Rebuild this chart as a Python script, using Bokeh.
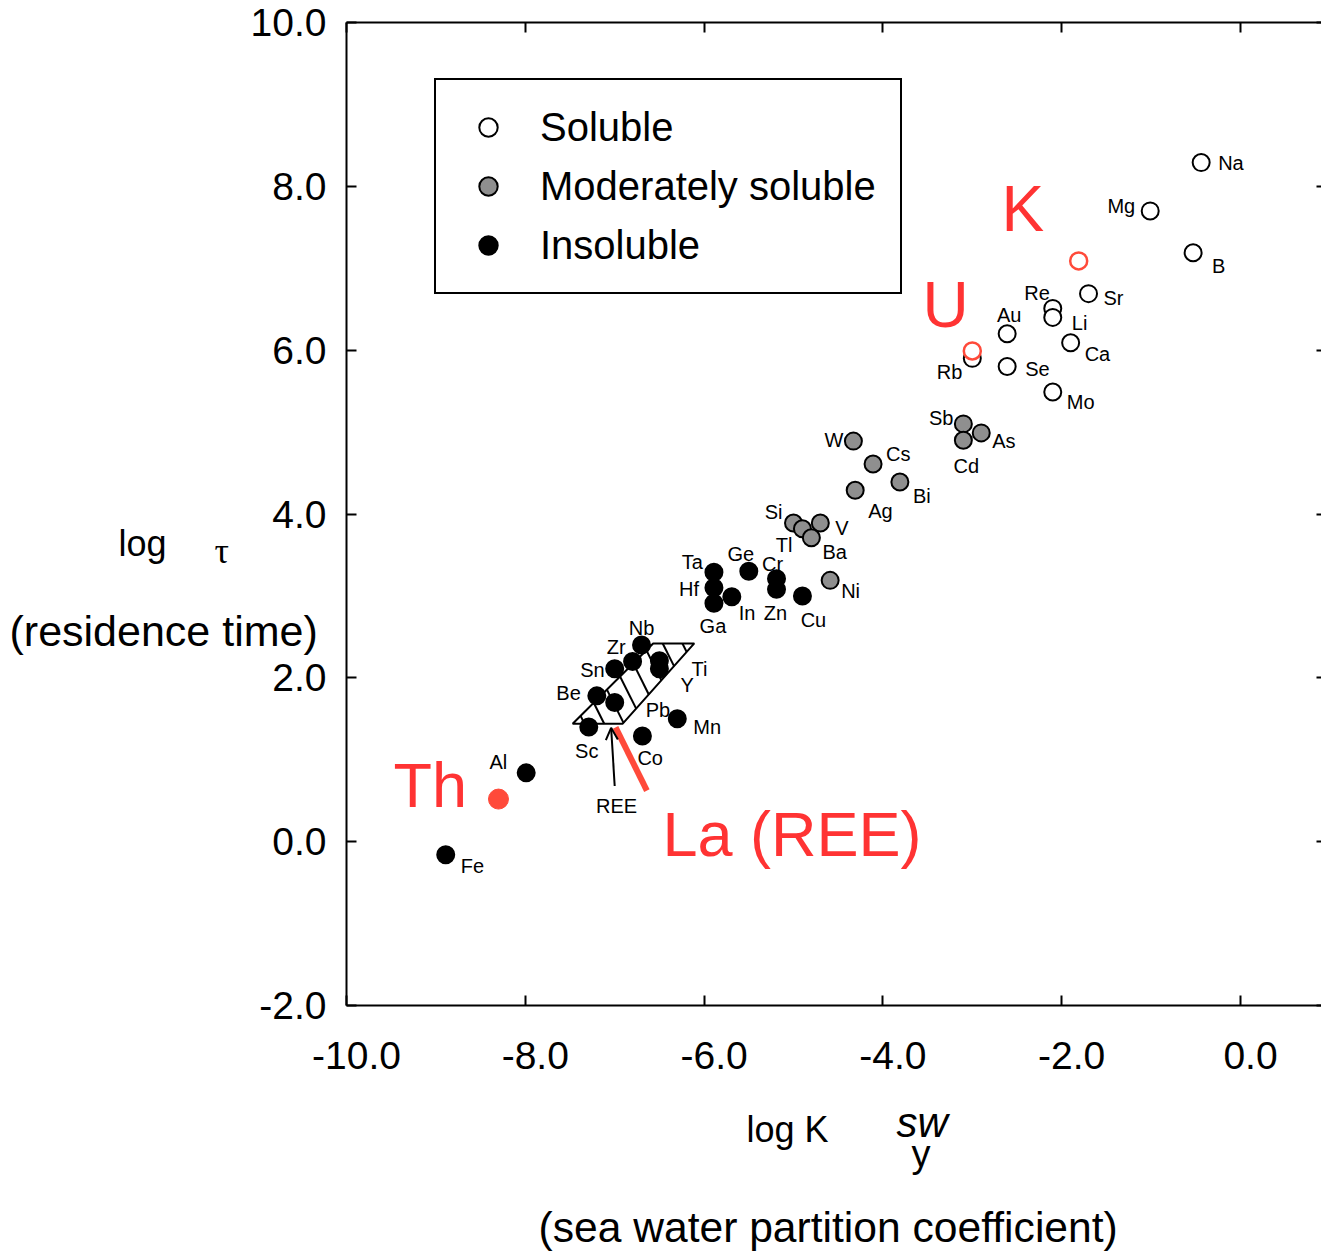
from bokeh.plotting import figure
from bokeh.models import (LinearAxis, FixedTicker, Label, Legend, LegendItem, Arrow,
                          OpenHead, NumeralTickFormatter, ColumnDataSource,
                          CustomJSTickFormatter)
from bokeh.embed import file_html
from bokeh.resources import INLINE
from bokeh.core.properties import value

# ---------------- data ----------------
soluble_names = ["Na", "Mg", "B", "Sr", "Re", "Li", "Au", "Ca", "Rb", "Se", "Mo"]
soluble_x = [-0.44, -1.01, -0.53, -1.70, -2.10, -2.10, -2.61, -1.90, -3.00, -2.61, -2.10]
soluble_y = [8.29, 7.70, 7.19, 6.69, 6.51, 6.40, 6.20, 6.09, 5.90, 5.80, 5.49]

moderate_names = ["W", "Cs", "Ag", "Bi", "Sb", "As", "Cd", "Si", "V", "Tl", "Ba", "Ni"]
moderate_x = [-4.33, -4.11, -4.31, -3.81, -3.10, -2.90, -3.10, -5.00, -4.70, -4.90, -4.80, -4.59]
moderate_y = [4.89, 4.61, 4.29, 4.39, 5.10, 4.99, 4.90, 3.89, 3.89, 3.82, 3.71, 3.19]

insoluble_names = ["Ta", "Hf", "Ga", "In", "Ge", "Cr", "Zn", "Cu", "Nb", "Zr", "Sn", "Ti", "Y",
                   "Be", "Pb", "Mn", "Sc", "Co", "Al", "Fe"]
insoluble_x = [-5.89, -5.89, -5.89, -5.69, -5.50, -5.19, -5.19, -4.90, -6.70, -6.80, -7.00, -6.50,
               -6.50, -7.20, -7.00, -6.30, -7.29, -6.69, -7.99, -8.89]
insoluble_y = [3.29, 3.10, 2.91, 2.99, 3.30, 3.21, 3.08, 3.00, 2.40, 2.20, 2.11, 2.21, 2.11,
               1.78, 1.70, 1.50, 1.40, 1.29, 0.84, -0.16]

highlight_open_names = ["K", "U"]
highlight_open_x = [-1.81, -3.00]
highlight_open_y = [7.09, 5.99]
highlight_filled_names = ["Th"]
highlight_filled_x = [-8.30]
highlight_filled_y = [0.52]

la_line_x = [-6.99, -6.64]
la_line_y = [1.395, 0.623]

ree_box_x = [-7.47, -6.91, -6.11, -6.57]
ree_box_y = [1.44, 1.44, 2.42, 2.42]

ree_arrow_x = [-7.00, -7.04]
ree_arrow_y = [0.68, 1.39]

x_ticks = [-10.0, -8.0, -6.0, -4.0, -2.0, 0.0]
y_ticks = [-2.0, 0.0, 2.0, 4.0, 6.0, 8.0, 10.0]

legend_labels = ["Soluble", "Moderately soluble", "Insoluble"]

# ---------------- layout constants ----------------
FONT = "Liberation Sans"
RED_TEXT = "#ff3333"
RED_MARK = "#ff4a3a"
GRAY = "#8f8f8f"
W, H = 1321, 1252

X0, X1 = -10.0, 0.906          # plot box x extent (box right edge at window edge)
Y0, Y1 = -2.0, 10.0
LEFT, TOP, FW, FH = 346, 22, 975, 983
XLABEL_SHIFT_PX = 10           # x tick labels sit slightly right of their ticks


def X(px):
    return X0 + (px - LEFT) * (X1 - X0) / FW


def Y(py):
    return Y1 - (py - TOP) * (Y1 - Y0) / FH


# label offsets (px) and alignment for each element name
label_layout = {
    "Na": (17, 0, "left"), "Mg": (-15, -5, "right"), "B": (19, 13, "left"),
    "Sr": (15, 4, "left"), "Re": (-3, -15, "right"), "Li": (19, 6, "left"),
    "Au": (2, -19, "center"), "Ca": (14, 11, "left"), "Rb": (-10, 14, "right"),
    "Se": (18, 2, "left"), "Mo": (14, 10, "left"),
    "W": (-10, -1, "right"), "Cs": (13, -10, "left"), "Ag": (13, 21, "left"),
    "Bi": (13, 14, "left"), "Sb": (-10, -6, "right"), "As": (11, 8, "left"),
    "Cd": (3, 26, "center"), "Si": (-11, -11, "right"), "V": (15, 5, "left"),
    "Tl": (-10, 16, "right"), "Ba": (11, 14, "left"), "Ni": (11, 11, "left"),
    "Ta": (-11, -10, "right"), "Hf": (-15, 1, "right"), "Ga": (-1, 23, "center"),
    "In": (7, 16, "left"), "Ge": (-8, -17, "center"), "Cr": (-4, -15, "center"),
    "Zn": (-1, 24, "center"), "Cu": (11, 24, "center"), "Nb": (0, -17, "center"),
    "Zr": (-7, -14, "right"), "Sn": (-10, 1, "right"), "Ti": (32, 8, "left"),
    "Y": (21, 16, "left"), "Be": (-16, -3, "right"), "Pb": (31, 8, "left"),
    "Mn": (16, 8, "left"), "Sc": (-2, 24, "center"), "Co": (-5, 22, "left"),
    "Al": (-19, -11, "right"), "Fe": (15, 11, "left"),
}

# frame covers the whole canvas; axes are pinned to the plot box edges
p = figure(width=W, height=H, x_range=(X(0), X(W)), y_range=(Y(H), Y(0)),
           output_backend="svg", toolbar_location=None,
           min_border_left=0, min_border_right=0, min_border_top=0, min_border_bottom=0)
p.grid.visible = False
p.outline_line_color = None
p.background_fill_color = "white"
p.border_fill_color = "white"


def style_axis(ax, ticks, bounds, loc, labels=True, line=True, tick_in=10):
    ax.ticker = FixedTicker(ticks=ticks)
    ax.formatter = NumeralTickFormatter(format="0.0")
    ax.bounds = bounds
    ax.fixed_location = loc
    ax.major_tick_in = tick_in
    ax.major_tick_out = 0
    ax.minor_tick_line_color = None
    ax.major_tick_line_width = 2
    ax.major_tick_line_color = "black"
    ax.axis_line_width = 2
    ax.axis_line_color = "black" if line else None
    ax.major_label_text_font = FONT
    ax.major_label_text_color = "black"
    if labels:
        ax.major_label_text_font_size = "39px"
    else:
        ax.major_label_text_font_size = "0px"
        ax.major_label_overrides = {t: "" for t in ticks}
        ax.major_label_standoff = 0


# bottom axis: line + ticks
style_axis(p.xaxis[0], x_ticks, (X0, X1), Y0, labels=False)
# bottom tick labels (same tick values, drawn a few pixels to the right)
shift = XLABEL_SHIFT_PX * (X1 - X0) / FW
xlab_axis = LinearAxis(
    ticker=FixedTicker(ticks=[t + shift for t in x_ticks]),
    formatter=CustomJSTickFormatter(
        args=dict(shift=shift),
        code="return (Math.round((tick - shift) * 10) / 10).toFixed(1);"),
    bounds=(X0, X1), fixed_location=Y0,
    axis_line_color=None, major_tick_line_color=None, minor_tick_line_color=None,
    major_tick_in=0, major_tick_out=0, major_label_standoff=36,
    major_label_text_font=FONT, major_label_text_font_size="39px",
    major_label_text_color="black")
p.add_layout(xlab_axis, "below")

style_axis(p.yaxis[0], y_ticks, (Y0, Y1), X0)
p.yaxis[0].major_label_standoff = 20

top_axis = LinearAxis()
style_axis(top_axis, x_ticks, (X0, X1), Y1, labels=False)
p.add_layout(top_axis, "above")
right_axis = LinearAxis()
style_axis(right_axis, y_ticks, (Y0, Y1), X1, labels=False, line=False, tick_in=5)
p.add_layout(right_axis, "right")

# ---------------- REE box with hatching ----------------
p.patch(ree_box_x, ree_box_y, fill_color=None, line_color="black", line_width=2)

PXX = FW / (X1 - X0)
PXY = FH / (Y1 - Y0)
poly = [(x * PXX, -y * PXY) for x, y in zip(ree_box_x, ree_box_y)]
cs = [u - v / 2 for u, v in poly]
cmin, cmax = min(cs), max(cs)
n_hatch = 8
hx, hy = [], []
for k in range(n_hatch):
    c = cmin + (cmax - cmin) * (k + 0.6) / (n_hatch + 0.2)
    pts = []
    for i in range(4):
        (u1, v1), (u2, v2) = poly[i], poly[(i + 1) % 4]
        f1 = u1 - v1 / 2 - c
        f2 = u2 - v2 / 2 - c
        if f1 == f2 or f1 * f2 > 0:
            continue
        t = f1 / (f1 - f2)
        pts.append((u1 + t * (u2 - u1), v1 + t * (v2 - v1)))
    if len(pts) >= 2:
        pts.sort(key=lambda q: q[1])
        (ua, va), (ub, vb) = pts[0], pts[-1]
        hx.append([ua / PXX, ub / PXX])
        hy.append([-va / PXY, -vb / PXY])
p.multi_line(hx, hy, line_color="black", line_width=2)

# La (REE) red line
p.line(la_line_x, la_line_y, line_color=RED_MARK, line_width=6)

# ---------------- points ----------------
r_sol = p.scatter(soluble_x, soluble_y, size=17, marker="circle", fill_color="white",
                  line_color="black", line_width=2)
r_mod = p.scatter(moderate_x, moderate_y, size=17, marker="circle", fill_color=GRAY,
                  line_color="black", line_width=2)
r_ins = p.scatter(insoluble_x, insoluble_y, size=17, marker="circle", fill_color="black",
                  line_color="black", line_width=2)
p.scatter(highlight_open_x, highlight_open_y, size=17, marker="circle", fill_color="white",
          line_color=RED_MARK, line_width=2.5)
p.scatter(highlight_filled_x, highlight_filled_y, size=20, marker="circle", fill_color=RED_MARK,
          line_color=RED_MARK, line_width=1)

# ---------------- element labels ----------------
all_names = soluble_names + moderate_names + insoluble_names
all_x = soluble_x + moderate_x + insoluble_x
all_y = soluble_y + moderate_y + insoluble_y
for align in ["left", "right", "center"]:
    d = dict(x=[], y=[], t=[], dx=[], dy=[])
    for n, x, y in zip(all_names, all_x, all_y):
        dx, dy, a = label_layout[n]
        if a != align:
            continue
        d["x"].append(x); d["y"].append(y); d["t"].append(n)
        d["dx"].append(dx); d["dy"].append(dy)
    p.text(x="x", y="y", text="t", x_offset="dx", y_offset="dy",
           source=ColumnDataSource(d), text_align=align, text_baseline="middle",
           text_font=value(FONT), text_font_size="20px", text_color="black")

# ---------------- REE arrow ----------------
p.add_layout(Arrow(end=OpenHead(size=12, line_width=2, line_color="black"),
                   x_start=ree_arrow_x[0], y_start=ree_arrow_y[0],
                   x_end=ree_arrow_x[1], y_end=ree_arrow_y[1],
                   line_width=2, line_color="black"))


def add_text(txt, px, py, fs, font=FONT, style="normal", color="black", align="left"):
    # px, py: left/baseline position in window pixels
    p.add_layout(Label(x=X(px), y=Y(py - 0.35 * fs), text=txt, text_align=align,
                       text_baseline="alphabetic", text_font=font,
                       text_font_size=f"{fs}px", text_font_style=style, text_color=color))


add_text("REE", 616, 812, 20, align="center")

# ---------------- red annotations ----------------
add_text("K", 1001, 231, 64, color=RED_TEXT)
add_text("U", 922, 327, 64, color=RED_TEXT)
add_text("Th", 393, 807, 63, color=RED_TEXT)
add_text("La (REE)", 662, 856, 63, color=RED_TEXT)

# ---------------- axis titles ----------------
add_text("log", 118, 556, 36)
add_text("τ", 214, 563, 36, font="Liberation Serif")
add_text("(residence time)", 9, 646, 43)
add_text("log K", 746, 1142, 36)
add_text("sw", 896, 1137, 42, style="italic")
add_text("y", 911, 1167, 38)
add_text("(sea water partition coefficient)", 538, 1241, 42.6)

# ---------------- legend ----------------
legend = Legend(items=[LegendItem(label=legend_labels[0], renderers=[r_sol]),
                       LegendItem(label=legend_labels[1], renderers=[r_mod]),
                       LegendItem(label=legend_labels[2], renderers=[r_ins])],
                location=(434, H - 294), margin=0,
                border_line_color="black", border_line_width=2, border_line_alpha=1.0,
                background_fill_color="white", background_fill_alpha=1.0,
                label_text_font=FONT, label_text_font_size="40px", label_text_color="black",
                glyph_width=56, glyph_height=46, label_height=46, label_width=336,
                label_standoff=24, padding=24, spacing=13)
p.add_layout(legend)

open("out.html", "w").write(file_html(p, INLINE))
